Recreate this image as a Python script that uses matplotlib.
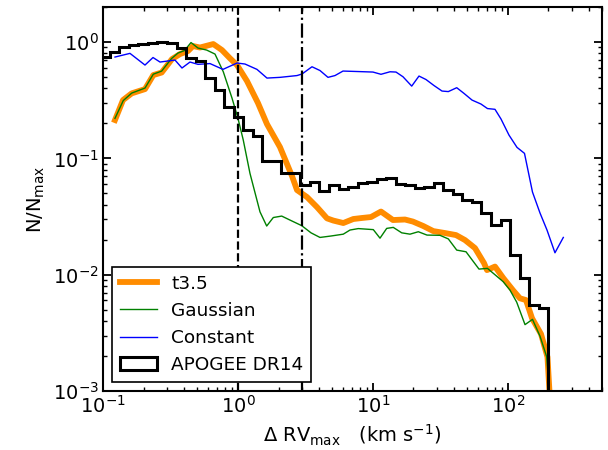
import numpy as np
import matplotlib
matplotlib.use('Agg')
import matplotlib.pyplot as plt

# APOGEE DR14 histogram (normalised), 47 log bins up to 200 km/s
apogee_edges = np.logspace(-1.02, 2.30, 48)
apogee_vals = [0.743, 0.820, 0.906, 0.942, 0.971, 0.99, 1.0, 0.98, 0.888, 0.729,
               0.687, 0.490, 0.387, 0.276, 0.2265, 0.175, 0.1555, 0.0948, 0.0948, 0.0752,
               0.0752, 0.0590, 0.0629, 0.0523, 0.0590, 0.0545, 0.0570, 0.0613, 0.0629, 0.0664,
               0.0673, 0.0601, 0.0590, 0.0552, 0.0570, 0.0610, 0.0534, 0.0493, 0.0438, 0.0423,
               0.0339, 0.0267, 0.0295, 0.01474, 0.00935, 0.00548, 0.00516]

# t3.5 model
t35_x = [0.1227, 0.1407, 0.1632, 0.2048, 0.236, 0.2723, 0.3247, 0.3722, 0.4267, 0.4648,
         0.5236, 0.657, 0.762, 0.874, 0.985, 1.168, 1.409, 1.643, 2.051, 2.518,
         2.743, 3.252, 3.858, 4.576, 5.095, 6.044, 7.169, 8.275, 9.698, 11.5,
         14.11, 17.33, 19.86, 23.68, 28.09, 34.29, 41.4, 48.25, 57.23, 66.75,
         70.24, 80.5, 92.77, 110.0, 123.4, 136.7, 151.4, 176.6, 197.2, 211.2]
t35_y = [0.2135, 0.317, 0.362, 0.394, 0.520, 0.547, 0.714, 0.788, 0.837, 0.924,
         0.897, 0.961, 0.853, 0.724, 0.634, 0.462, 0.299, 0.197, 0.125, 0.0705,
         0.0534, 0.0465, 0.0381, 0.0305, 0.0292, 0.0278, 0.0301, 0.0307, 0.0313, 0.0349,
         0.0295, 0.0298, 0.0286, 0.0262, 0.0237, 0.0228, 0.0219, 0.01984, 0.01693, 0.01258,
         0.01095, 0.01174, 0.00935, 0.0073, 0.00626, 0.00605, 0.00423, 0.00309, 0.00196, 0.0005]

# Gaussian model
gauss_x = [0.1227, 0.1414, 0.1632, 0.2048, 0.236, 0.2723, 0.322, 0.3597, 0.4019, 0.4492,
           0.506, 0.587, 0.6765, 0.7794, 0.904, 1.0, 1.096, 1.229, 1.458, 1.635,
           1.83, 2.112, 2.475, 2.972, 3.483, 4.06, 4.898, 6.044, 6.776, 7.806,
           10.09, 11.31, 12.68, 14.19, 16.38, 18.87, 21.75, 25.22, 31.49, 36.3,
           41.9, 49.1, 61.27, 70.8, 92.77, 104.0, 116.6, 134.4, 152.7, 173.6,
           194.6, 212.0]
gauss_y = [0.2208, 0.314, 0.364, 0.402, 0.529, 0.563, 0.721, 0.804, 0.845, 0.990,
           0.888, 0.853, 0.788, 0.555, 0.330, 0.222, 0.1437, 0.0743, 0.0347, 0.0262,
           0.031, 0.0319, 0.0292, 0.0264, 0.0229, 0.0209, 0.0215, 0.0223, 0.0242, 0.0249,
           0.0244, 0.0206, 0.025, 0.0255, 0.0229, 0.0223, 0.0234, 0.0219, 0.0218, 0.0203,
           0.01627, 0.01574, 0.01117, 0.01133, 0.00869, 0.00737, 0.00581, 0.00372, 0.00413, 0.00296,
           0.00197, 0.0005]

# Constant model
const_x = [0.1227, 0.1585, 0.2048, 0.2348, 0.2646, 0.3418, 0.3851, 0.4415, 0.506, 0.621,
           0.775, 0.985, 1.129, 1.385, 1.643, 2.051, 2.743, 2.987, 3.542, 4.06,
           4.655, 5.246, 6.014, 7.636, 10.03, 11.5, 13.41, 14.86, 16.74, 19.43,
           22.0, 24.8, 28.4, 32.6, 36.3, 41.9, 47.4, 54.4, 63.4, 70.8,
           80.5, 89.2, 102.2, 117.2, 133.2, 152.7, 173.6, 195.6, 224.1, 258.4]
const_y = [0.743, 0.799, 0.634, 0.736, 0.673, 0.700, 0.598, 0.673, 0.643, 0.653,
           0.582, 0.660, 0.647, 0.582, 0.490, 0.497, 0.515, 0.531, 0.613, 0.569,
           0.497, 0.515, 0.563, 0.558, 0.552, 0.528, 0.555, 0.552, 0.503, 0.418,
           0.510, 0.476, 0.423, 0.379, 0.375, 0.405, 0.362, 0.317, 0.293, 0.268,
           0.264, 0.218, 0.1586, 0.1243, 0.1104, 0.0513, 0.0339, 0.0242, 0.01543, 0.0209]

fig = plt.figure(figsize=(6.08, 4.5), dpi=100)
ax = fig.add_axes([0.1694, 0.1311, 0.8207, 0.8533])

ax.plot(t35_x, t35_y, color='darkorange', lw=4.2, label='t3.5')
ax.plot(gauss_x, gauss_y, color='green', lw=1, label='Gaussian')
ax.plot(const_x, const_y, color='blue', lw=1, label='Constant')
ax.hist(apogee_edges[:-1], bins=apogee_edges, weights=apogee_vals, histtype='step',
        color='black', lw=2.2, label='APOGEE DR14', log=True)

ax.axvline(1, color='black', ls='--', lw=1.6)
ax.axvline(3, color='black', ls='-.', lw=1.6)

ax.set_xscale('log')
ax.set_yscale('log')
ax.set_xlim(0.1, 500)
ax.set_ylim(1e-3, 2)

ax.set_xlabel(r'$\Delta$ RV$_{\mathrm{max}}$   (km s$^{-1}$)', fontsize=14)
ax.set_ylabel(r'N/N$_{\mathrm{max}}$', fontsize=14)

ax.tick_params(which='both', direction='in', top=True, right=True, labelsize=14)
ax.tick_params(which='major', length=6, width=1.3, pad=3)
ax.tick_params(which='minor', length=3, width=1)
for s in ax.spines.values():
    s.set_linewidth(1.5)

leg = ax.legend(loc='lower left', fontsize=13.3, fancybox=False, framealpha=1,
                edgecolor='black')
leg.get_frame().set_linewidth(1.2)

fig.savefig('out.png', dpi=100)
